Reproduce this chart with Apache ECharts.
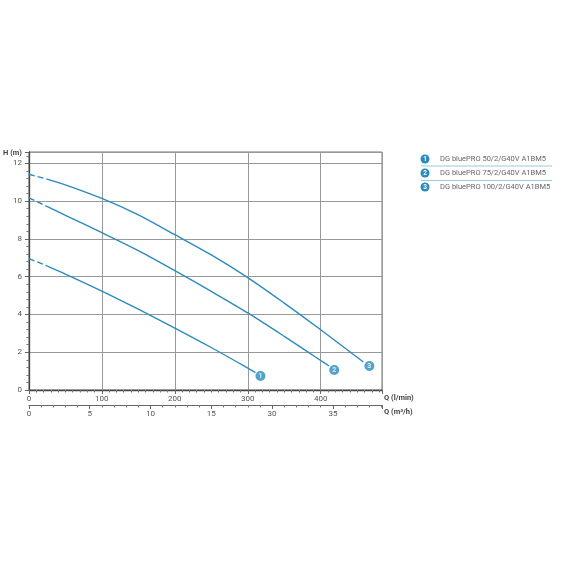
<!DOCTYPE html>
<html><head><meta charset="utf-8">
<script src="https://cdn.jsdelivr.net/npm/echarts@6/dist/echarts.min.js"></script>
<style>html,body{margin:0;padding:0;background:#fff}#c{width:570px;height:570px}</style>
</head><body><div id="c"></div>
<script>
// ---- data ----
const seriesNames = ['DG bluePRO 50/2/G40V A1BM5', 'DG bluePRO 75/2/G40V A1BM5', 'DG bluePRO 100/2/G40V A1BM5'];
const curveNumbers = ['1', '2', '3'];
// dashed start segment (flow l/min, head m)
const dash1Q = [0, 26];        const dash1H = [6.96, 6.55];
const dash2Q = [0, 26];        const dash2H = [10.17, 9.70];
const dash3Q = [0, 26];        const dash3H = [11.42, 11.15];
// solid curves
const curve1Q = [26, 50, 100, 150, 200, 250, 300, 310.5];
const curve1H = [6.55, 6.14, 5.24, 4.28, 3.28, 2.25, 1.16, 0.92];
const curve2Q = [26, 50, 100, 150, 200, 250, 300, 350, 400, 411.6];
const curve2H = [9.70, 9.25, 8.33, 7.38, 6.32, 5.22, 4.08, 2.84, 1.56, 1.27];
const curve3Q = [26, 50, 100, 150, 200, 250, 300, 350, 400, 458.5];
const curve3H = [11.15, 10.86, 10.14, 9.27, 8.22, 7.15, 5.95, 4.60, 3.19, 1.48];
// curve number badges
const badgeQ = [317.4, 418.5, 466.7];
const badgeH = [0.74, 1.06, 1.27];
// axes
const qMaxLmin = 484;
const hMax = 12.6;
const yTickLabels = ['0', '2', '4', '6', '8', '10', '12'];
const xTickLabels = ['0', '100', '200', '300', '400'];
const m3hTickLabels = ['0', '5', '10', '15', '30', '35'];

// ---- chart ----
const blue = '#2b8bbd';
const txt = '#555';
const font = 'Roboto, "DejaVu Sans", sans-serif';
const zip = (a, b) => a.map((v, i) => [v, b[i]]);

const chart = echarts.init(document.getElementById('c'), null, {renderer: 'canvas'});

const lineSeries = [];
[[dash1Q, dash1H, curve1Q, curve1H], [dash2Q, dash2H, curve2Q, curve2H], [dash3Q, dash3H, curve3Q, curve3H]].forEach((c, i) => {
  lineSeries.push({
    type: 'line', name: seriesNames[i] + ' dash', data: zip(c[0], c[1]), showSymbol: false, silent: true,
    lineStyle: {color: blue, width: 1.4, type: [6, 3]}, xAxisIndex: 0, yAxisIndex: 0, z: 3
  });
  lineSeries.push({
    type: 'line', name: seriesNames[i], data: zip(c[2], c[3]), showSymbol: false, silent: true,
    smooth: 0.3, lineStyle: {color: blue, width: 1.4}, xAxisIndex: 0, yAxisIndex: 0, z: 3
  });
});
lineSeries.push({
  type: 'scatter', data: badgeQ.map((q, i) => ({value: [q, badgeH[i]], label: {formatter: curveNumbers[i]}})),
  symbol: 'circle', symbolSize: 10, itemStyle: {color: blue}, z: 5,
  label: {show: true, position: 'inside', color: '#fff', fontSize: 7, fontWeight: 'bold', fontFamily: font}
});

// legend built as graphic
const legendG = [];
const legY = [159, 173, 187];
seriesNames.forEach((n, i) => {
  legendG.push({type: 'circle', shape: {cx: 425, cy: legY[i], r: 4.5}, style: {fill: blue}});
  legendG.push({type: 'text', x: 425, y: legY[i], style: {text: curveNumbers[i], fill: '#fff', font: 'bold 6.5px ' + font, textAlign: 'center', textVerticalAlign: 'middle'}});
  legendG.push({type: 'text', x: 440, y: legY[i], style: {text: n, fill: '#666', font: '7.5px ' + font, textVerticalAlign: 'middle'}});
});
[166, 180.5].forEach(y => legendG.push({type: 'line', shape: {x1: 421, y1: y, x2: 552, y2: y}, style: {stroke: '#9cc8de', lineWidth: 1}}));

const option = {
  animation: false,
  backgroundColor: '#fff',
  grid: {left: 28, right: 188, top: 152, bottom: 180, show: true, borderColor: '#777', borderWidth: 1, backgroundColor: 'transparent'},
  xAxis: [{
    type: 'value', min: 0, max: qMaxLmin, interval: 100, position: 'bottom',
    name: 'Q (l/min)', nameLocation: 'end', nameGap: 2,
    nameTextStyle: {color: '#444', fontSize: 7.5, fontFamily: font, fontWeight: 'bold', align: 'left', verticalAlign: 'top', padding: [4, 0, 0, 0]},
    axisLine: {show: true, onZero: false, lineStyle: {color: '#444', width: 1.3}},
    axisTick: {show: true, length: 4, lineStyle: {color: '#666'}},
    minorTick: {show: true, splitNumber: 10, length: 2.5, lineStyle: {color: '#777'}},
    axisLabel: {color: txt, fontSize: 8, fontFamily: font, margin: 5, showMaxLabel: false,
      formatter: v => (v % 100 === 0 ? xTickLabels[v / 100] || '' : '')},
    splitLine: {show: true, lineStyle: {color: '#999', width: 1}}
  }, {
    type: 'value', min: 0, max: qMaxLmin * 60 / 1000, interval: 5, position: 'bottom', offset: 15,
    name: 'Q (m³/h)', nameLocation: 'end', nameGap: 2,
    nameTextStyle: {color: '#444', fontSize: 7.5, fontFamily: font, fontWeight: 'bold', align: 'left', verticalAlign: 'top', padding: [3, 0, 0, 0]},
    axisLine: {show: true, onZero: false, lineStyle: {color: '#666', width: 1}},
    axisTick: {show: true, length: 4, lineStyle: {color: '#666'}},
    minorTick: {show: true, splitNumber: 5, length: 2.5, lineStyle: {color: '#777'}},
    axisLabel: {color: txt, fontSize: 8, fontFamily: font, margin: 5, showMaxLabel: false,
      formatter: v => (Math.abs(v % 5) < 1e-9 ? m3hTickLabels[Math.round(v / 5)] || '' : '')},
    splitLine: {show: false}
  }],
  yAxis: [{
    type: 'value', min: 0, max: hMax, interval: 2,
    name: 'H (m)', nameLocation: 'end', nameGap: -1,
    nameTextStyle: {color: '#444', fontSize: 7.5, fontFamily: font, fontWeight: 'bold', align: 'right', verticalAlign: 'middle', padding: [0, 7, 0, 0]},
    axisLine: {show: true, lineStyle: {color: '#444', width: 1.3}},
    axisTick: {show: true, length: 4, lineStyle: {color: '#666'}},
    minorTick: {show: true, splitNumber: 5, length: 2.5, lineStyle: {color: '#777'}},
    axisLabel: {color: txt, fontSize: 8, fontFamily: font, margin: 7, showMaxLabel: false,
      formatter: v => (v % 2 === 0 ? yTickLabels[v / 2] || '' : '')},
    splitLine: {show: true, lineStyle: {color: '#999', width: 1}}
  }],
  series: lineSeries,
  graphic: legendG
};
chart.setOption(option);
</script></body></html>
